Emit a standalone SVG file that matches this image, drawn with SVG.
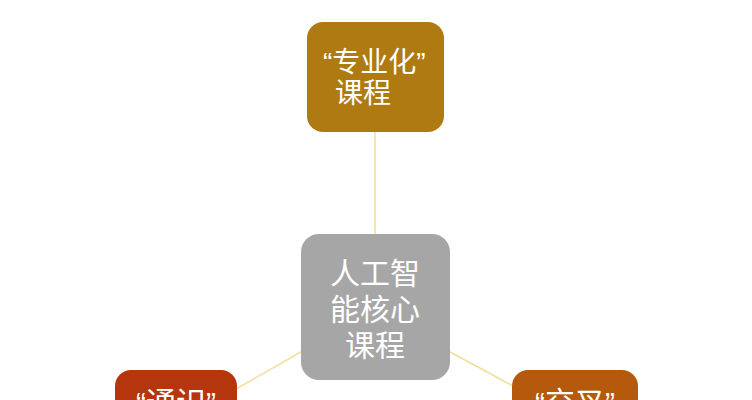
<svg xmlns="http://www.w3.org/2000/svg" width="752" height="400" viewBox="0 0 752 400">
<style>
.t{font-family:"Liberation Sans","Noto Sans CJK SC",sans-serif;fill:#ffffff;}
.c{stroke:#F2DE9A;stroke-width:1.5;fill:none;}
</style>
<rect width="752" height="400" fill="#ffffff"/>
<g id="connectors">
<line class="c" x1="375" y1="132" x2="375" y2="234"/>
<line class="c" x1="301" y1="352" x2="236" y2="389"/>
<line class="c" x1="450" y1="352" x2="513" y2="386"/>
</g>
<g id="node-top">
<rect x="307" y="22" width="137" height="110" rx="16" fill="#B07A12"/>
<text class="t" x="323" y="72" font-size="28">“专业化”</text>
<text class="t" x="335" y="103" font-size="28">课程</text>
</g>
<g id="node-center">
<rect x="301" y="234" width="149" height="146" rx="18" fill="#A6A6A6"/>
<text class="t" x="375" y="284" font-size="30" text-anchor="middle">人工智</text>
<text class="t" x="375" y="320" font-size="30" text-anchor="middle">能核心</text>
<text class="t" x="375" y="356" font-size="30" text-anchor="middle">课程</text>
</g>
<g id="node-left">
<rect x="115" y="370" width="122" height="80" rx="16" fill="#B5360C"/>
<text class="t" x="176" y="413" font-size="30" text-anchor="middle">“通识”</text>
</g>
<g id="node-right">
<rect x="512" y="370" width="126" height="80" rx="16" fill="#B5590C"/>
<text class="t" x="575" y="413" font-size="30" text-anchor="middle">“交叉”</text>
</g>
</svg>
